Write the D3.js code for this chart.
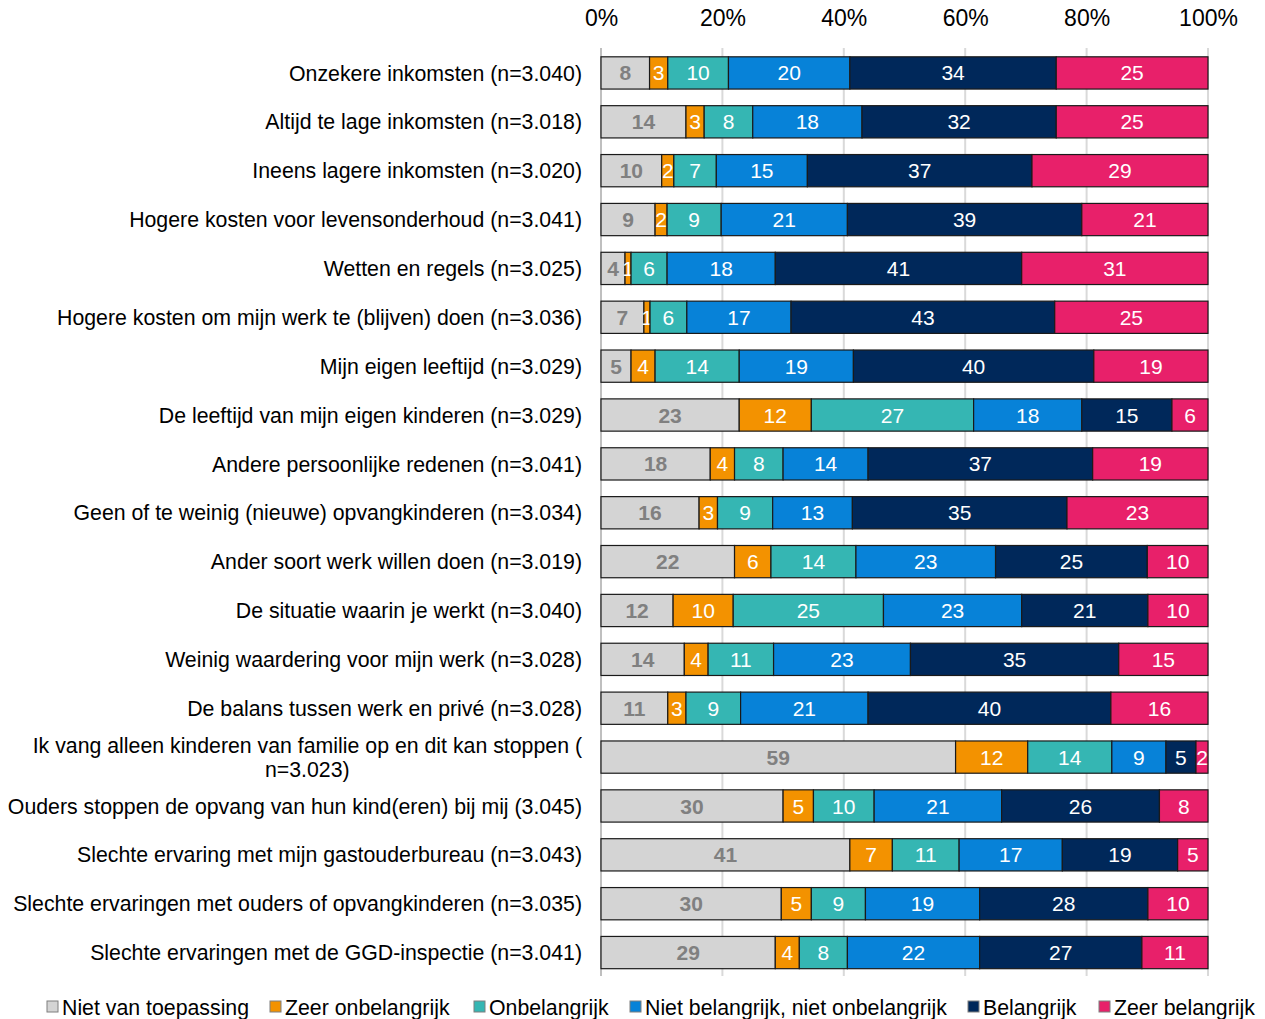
<!DOCTYPE html>
<html><head><meta charset="utf-8">
<script src="https://cdn.jsdelivr.net/npm/d3@7"></script>
<style>body{margin:0;background:#fff}svg{display:block;font-family:"Liberation Sans",Arial,sans-serif}</style>
</head><body><svg id="c" width="1265" height="1019"></svg>
<script>
const categories = [
"Onzekere inkomsten (n=3.040)",
"Altijd te lage inkomsten (n=3.018)",
"Ineens lagere inkomsten (n=3.020)",
"Hogere kosten voor levensonderhoud (n=3.041)",
"Wetten en regels (n=3.025)",
"Hogere kosten om mijn werk te (blijven) doen (n=3.036)",
"Mijn eigen leeftijd (n=3.029)",
"De leeftijd van mijn eigen kinderen (n=3.029)",
"Andere persoonlijke redenen (n=3.041)",
"Geen of te weinig (nieuwe) opvangkinderen (n=3.034)",
"Ander soort werk willen doen (n=3.019)",
"De situatie waarin je werkt (n=3.040)",
"Weinig waardering voor mijn werk (n=3.028)",
"De balans tussen werk en privé (n=3.028)",
"Ik vang alleen kinderen van familie op en dit kan stoppen (\nn=3.023)",
"Ouders stoppen de opvang van hun kind(eren) bij mij (3.045)",
"Slechte ervaring met mijn gastouderbureau (n=3.043)",
"Slechte ervaringen met ouders of opvangkinderen (n=3.035)",
"Slechte ervaringen met de GGD-inspectie (n=3.041)"
];
const seriesNames = ["Niet van toepassing","Zeer onbelangrijk","Onbelangrijk","Niet belangrijk, niet onbelangrijk","Belangrijk","Zeer belangrijk"];
const nietVanToepassing = [8,14,10,9,4,7,5,23,18,16,22,12,14,11,59,30,41,30,29];
const zeerOnbelangrijk  = [3,3,2,2,1,1,4,12,4,3,6,10,4,3,12,5,7,5,4];
const onbelangrijk      = [10,8,7,9,6,6,14,27,8,9,14,25,11,9,14,10,11,9,8];
const neutraal          = [20,18,15,21,18,17,19,18,14,13,23,23,23,21,9,21,17,19,22];
const belangrijk        = [34,32,37,39,41,43,40,15,37,35,25,21,35,40,5,26,19,28,27];
const zeerBelangrijk    = [25,25,29,21,31,25,19,6,19,23,10,10,15,16,2,8,5,10,11];
const tickLabels = ["0%","20%","40%","60%","80%","100%"];
const colors = ["#d4d4d4","#f39200","#35b6b3","#0782d8","#00285a","#e8206a"];
const labelColors = ["#808080","#fff","#fff","#fff","#fff","#fff"];

const seriesData = [nietVanToepassing,zeerOnbelangrijk,onbelangrijk,neutraal,belangrijk,zeerBelangrijk];
const rows = categories.map((c,i)=>{const o={cat:c};seriesNames.forEach((s,j)=>o[s]=seriesData[j][i]);return o;});
const stacked = d3.stack().keys(seriesNames).offset(d3.stackOffsetExpand)(rows);

const svg = d3.select("#c");
const x = d3.scaleLinear().domain([0,1]).range([601,1208]);
const y = d3.scaleBand().domain(categories).range([48.5,977]).paddingInner(0.34).paddingOuter(0.17);

// gridlines
svg.append("g").selectAll("line").data(d3.range(0,1.0001,0.2)).join("line")
  .attr("x1",d=>x(d)).attr("x2",d=>x(d)).attr("y1",48).attr("y2",976)
  .attr("stroke",d=>d===0?"#bfbfbf":"#d9d9d9").attr("stroke-width",2);

// top axis labels
const xAxis = d3.axisTop(x).tickValues(d3.range(0,1.0001,0.2)).tickFormat((d,i)=>tickLabels[i]).tickSize(0);
const ax = svg.append("g").attr("transform","translate(0,29)").call(xAxis);
ax.select(".domain").remove();
ax.selectAll("text").attr("font-size",23).attr("fill","#000").attr("font-family","Liberation Sans, Arial, sans-serif").attr("dy","0");

// bars
const g = svg.append("g");
stacked.forEach((s,j)=>{
  const sg = g.append("g");
  sg.selectAll("rect").data(s).join("rect")
    .attr("x",d=>x(d[0])).attr("width",d=>x(d[1])-x(d[0]))
    .attr("y",d=>y(d.data.cat)).attr("height",y.bandwidth())
    .attr("fill",colors[j]).attr("stroke","#1a1a1a").attr("stroke-width",1.2);
  sg.selectAll("text").data(s).join("text")
    .attr("x",d=>(x(d[0])+x(d[1]))/2).attr("y",d=>y(d.data.cat)+y.bandwidth()/2)
    .attr("dy","0.36em").attr("text-anchor","middle").attr("font-size",21)
    .attr("font-weight",j===0?"bold":"normal")
    .attr("fill",labelColors[j]).text(d=>d.data[seriesNames[j]]);
});

// category labels
const lg = svg.append("g");
const FS = 21.3;
categories.forEach(c=>{
  const cy = y(c)+y.bandwidth()/2;
  const lines = c.split("\n");
  if(lines.length===1){
    lg.append("text").attr("x",582).attr("y",cy).attr("dy","0.36em").attr("text-anchor","end")
      .attr("font-size",FS).attr("fill","#000").text(c);
  } else {
    const t1 = lg.append("text").attr("x",582).attr("y",cy-12).attr("dy","0.36em").attr("text-anchor","end")
      .attr("font-size",FS).attr("fill","#000").text(lines[0]);
    const w = t1.node().getComputedTextLength();
    lg.append("text").attr("x",582-w/2).attr("y",cy+12).attr("dy","0.36em").attr("text-anchor","middle")
      .attr("font-size",FS).attr("fill","#000").text(lines[1]);
  }
});

// legend
const legX = [47,270,474,630,968,1099];
const leg = svg.append("g");
seriesNames.forEach((s,j)=>{
  leg.append("rect").attr("x",legX[j]).attr("y",1001).attr("width",11).attr("height",11)
    .attr("fill",colors[j]).attr("stroke","#7f7f7f").attr("stroke-width",1);
  leg.append("text").attr("x",legX[j]+15).attr("y",1007).attr("dy","0.36em")
    .attr("font-size",21.3).attr("fill","#000").text(s);
});
</script></body></html>
